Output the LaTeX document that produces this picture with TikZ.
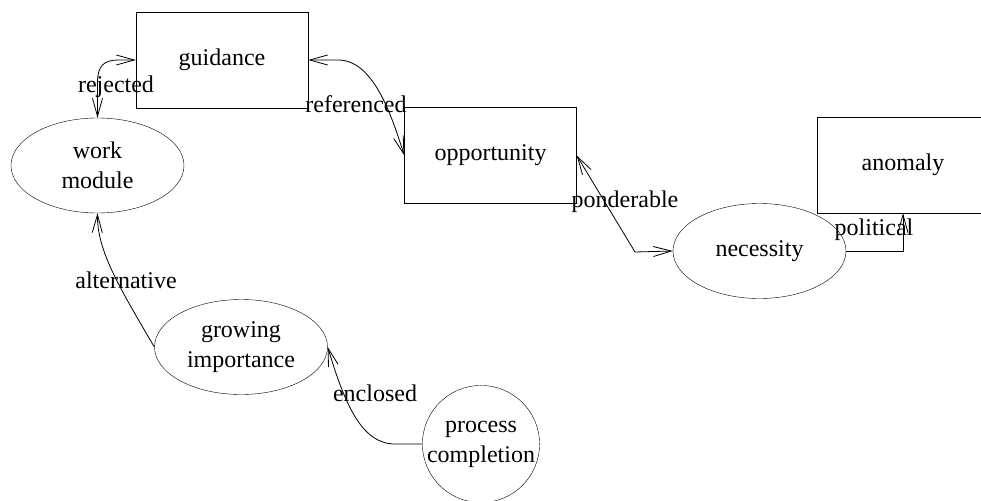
\documentclass[tikz,border=0pt]{standalone}
\usepackage{fontspec}
\setmainfont{Liberation Serif}
\usetikzlibrary{shapes.geometric,arrows.meta}
\begin{document}
\begin{tikzpicture}[x=1pt,y=-1pt,
  every node/.style={font=\fontsize{24}{30}\selectfont},
  boxnode/.style={draw,rectangle,minimum width=172pt,minimum height=96pt,inner sep=0pt},
  ellnode/.style={draw,ellipse,minimum width=173pt,minimum height=95pt,inner sep=0pt,align=center},
  circnode/.style={draw,circle,minimum size=116pt,inner sep=0pt,align=center},
  lbl/.style={inner sep=0pt},
  conn/.style={line width=0.8pt,>={Straight Barb[length=18pt,width=10pt]}}
]
\clip (0,0) rectangle (981,500);
\fill[white] (0,0) rectangle (981,500);
\node[boxnode] (guid) at (222,60) {guidance};
\node[boxnode] (opp) at (490.5,155.5) {opportunity};
\node[boxnode] (anom) at (903,165) {anomaly};
\node[ellnode] (wm) at (97.5,165.5) {work\\module};
\node[ellnode] (nec) at (759.5,251) {necessity};
\node[ellnode] (gi) at (241,347) {growing\\importance};
\node[circnode] (pc) at (481,444) {process\\completion};
% connectors
\draw[conn,<->]
  (wm.north) -- (97.5,82) .. controls (97.5,66) and (104,60) .. (118,60) -- (guid.west);
\draw[conn,<->]
  (guid.east) -- (338,60) .. controls (372,60) and (390,110) .. (opp.west);
\draw[conn,<->]
  (opp.east) -- (635,252) -- (nec.west);
\draw[conn,->]
  (nec.east) -| (anom.south);
\draw[conn,->]
  (gi.west) .. controls (118,285) and (97,250) .. (wm.south);
\draw[conn,->]
  (pc.west) -- (395,444) .. controls (362,444) and (345,405) .. (gi.east);
% labels
\node[lbl] (l1) at (116,87) {rejected};
\node[lbl] (l2) at (356,104) {referenced};
\node[lbl] (l3) at (625,202) {ponderable};
\node[lbl] (l4) at (874,230) {political};
\node[lbl] (l5) at (126,280) {alternative};
\node[lbl] (l6) at (375,393) {enclosed};
\end{tikzpicture}
\end{document}
